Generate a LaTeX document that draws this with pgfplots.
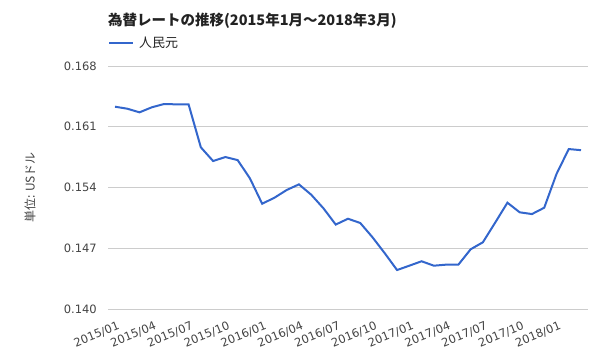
\documentclass[border=0pt]{standalone}
\usepackage{fontspec}
\setmainfont{DejaVu Sans}
\newfontfamily\cjk{Noto Sans CJK JP}
\usepackage{pgfplots}
\pgfplotsset{compat=1.18}
\definecolor{line}{HTML}{3366CC}
\definecolor{gridc}{HTML}{CCCCCC}
\definecolor{tickc}{HTML}{444444}
\definecolor{titlec}{HTML}{222222}
\begin{document}
\begin{tikzpicture}
\path[use as bounding box] (0,0) rectangle (600bp,360bp);
\begin{axis}[
  at={(108bp,51bp)}, anchor=south west,
  scale only axis, width=480bp, height=243bp,
  xmin=-0.57, xmax=38.57,
  ymin=0.140, ymax=0.168,
  ytick={0.140,0.147,0.154,0.161,0.168},
  /pgf/number format/assume math mode=true,
  yticklabel style={/pgf/number format/fixed,/pgf/number format/precision=3,/pgf/number format/fixed zerofill, font=\fontsize{11.5bp}{13bp}\selectfont, text=tickc, inner sep=0pt, anchor=east, xshift=-11bp},
  xtick={0,3,6,9,12,15,18,21,24,27,30,33,36},
  xticklabels={2015/01,2015/04,2015/07,2015/10,2016/01,2016/04,2016/07,2016/10,2017/01,2017/04,2017/07,2017/10,2018/01},
  xticklabel style={font=\fontsize{11.5bp}{13bp}\selectfont, text=tickc, inner sep=0pt, yshift=-12bp, xshift=2bp, rotate=22, anchor=north east},
  major tick length=0pt,
  axis line style={draw=none},
  ymajorgrids, grid style={gridc, line width=0.8bp},
  ylabel={\cjk 単位: USドル},
  ylabel style={at={(axis description cs:-0.1625,0.5)}, anchor=center, font=\fontsize{12bp}{14bp}\selectfont, text=tickc},
  legend style={at={(0,1)}, anchor=west, yshift=23bp, draw=none, fill=none, inner sep=0pt, outer sep=0pt, nodes={inner sep=0pt}, column sep=5bp, font=\cjk\fontsize{13bp}{15bp}\selectfont, text=titlec},
  legend image code/.code={\draw[#1] (0bp,0bp) -- (24bp,0bp);},
  clip=false,
]
\addplot[line, line width=2bp] coordinates {
(0,0.16331) (1,0.16308) (2,0.16266) (3,0.16324) (4,0.16362) (5,0.16358) (6,0.16358)
(7,0.15863) (8,0.15705) (9,0.15751) (10,0.15716) (11,0.15506) (12,0.15213) (13,0.15282)
(14,0.15371) (15,0.15436) (16,0.15317) (17,0.15160) (18,0.14973) (19,0.15040) (20,0.14991)
(21,0.14826) (22,0.14642) (23,0.14449) (24,0.14499) (25,0.14550) (26,0.14499) (27,0.14511)
(28,0.14511) (29,0.14688) (30,0.14769) (31,0.14995) (32,0.15225) (33,0.15114) (34,0.15094)
(35,0.15167) (36,0.15555) (37,0.15843) (38,0.15830)
};
\addlegendentry{人民元}
\node[anchor=base west, font=\cjk\bfseries\fontsize{14.5bp}{16bp}\selectfont, text=titlec, inner sep=0] at (axis description cs:0,1) [yshift=40bp] {為替レートの推移(2015年1月～2018年3月)};
\end{axis}
\end{tikzpicture}
\end{document}
